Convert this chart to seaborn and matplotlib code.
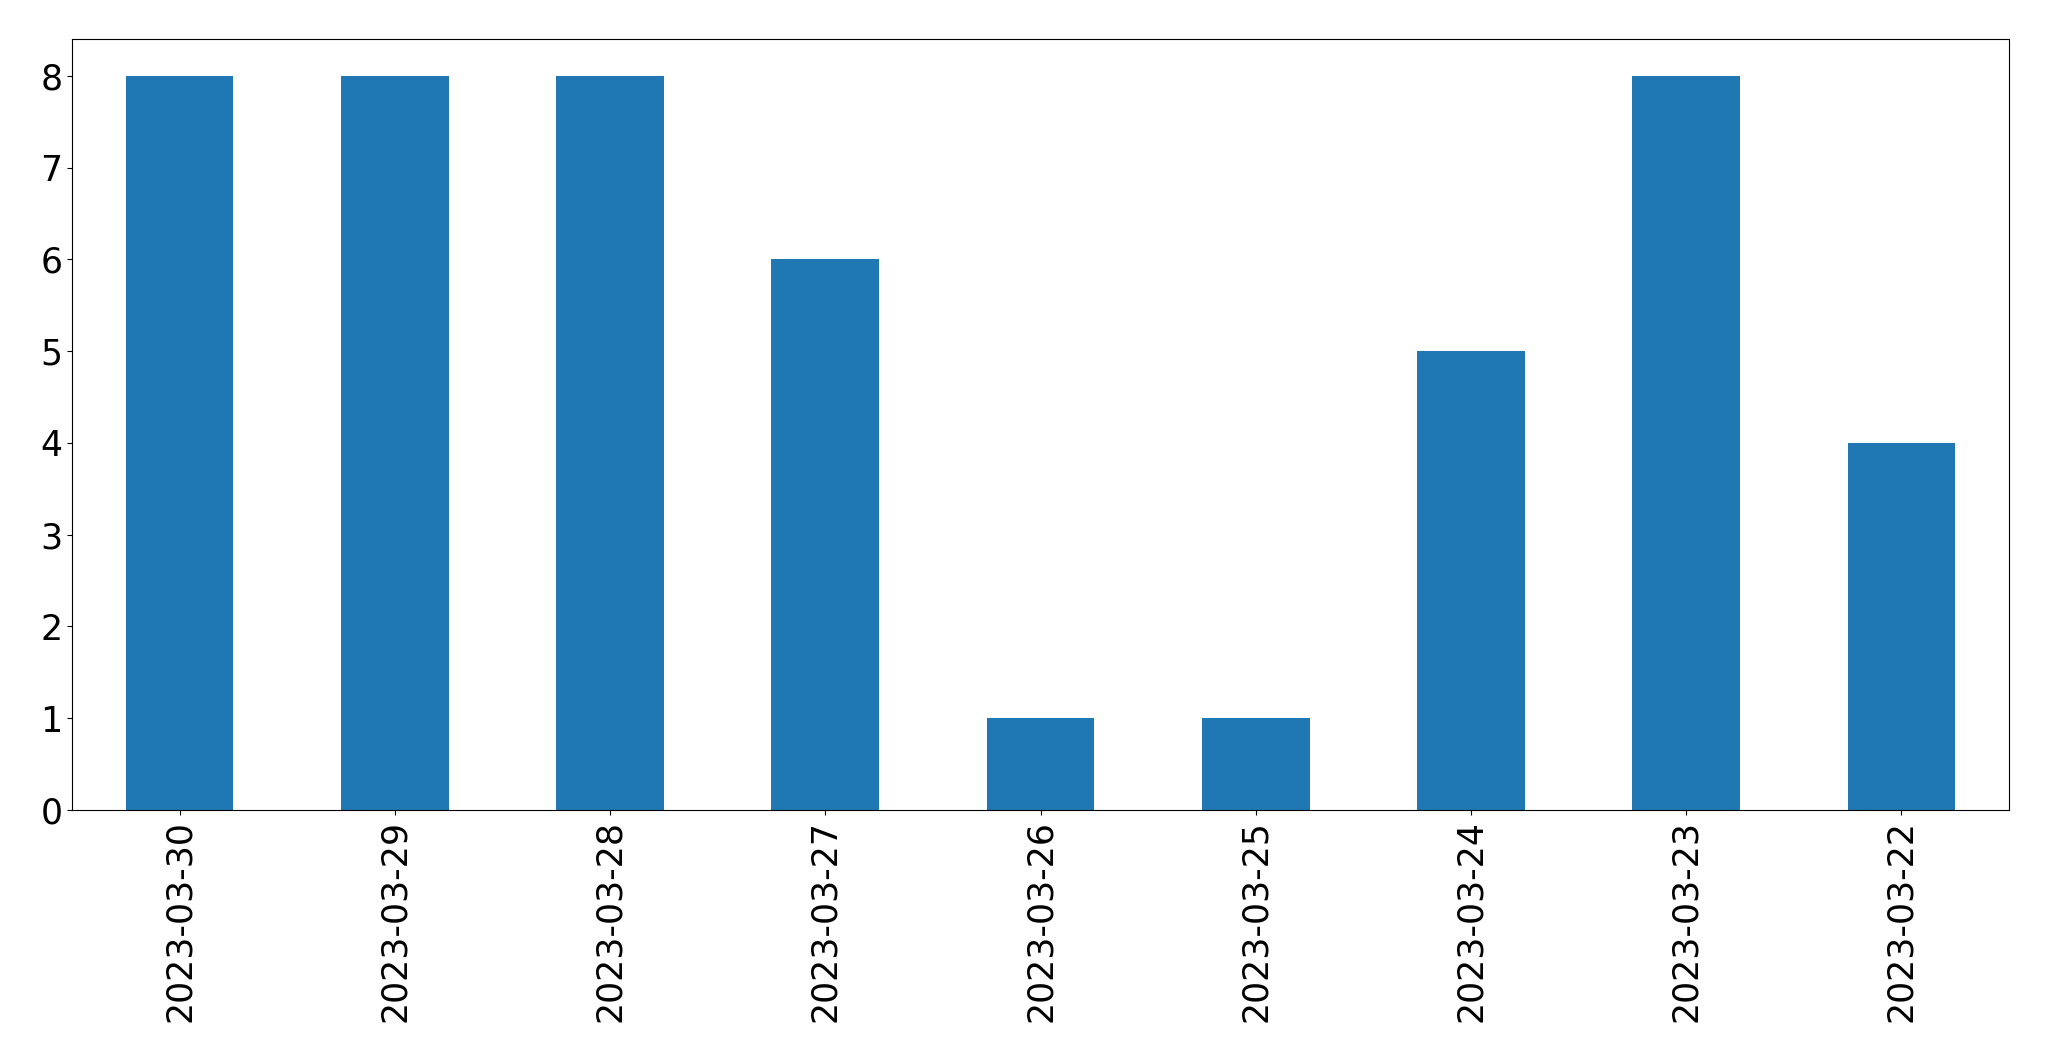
import matplotlib
matplotlib.use("Agg")
import matplotlib.pyplot as plt
import seaborn as sns
import pandas as pd

dates = ["2023-03-30", "2023-03-29", "2023-03-28", "2023-03-27", "2023-03-26",
         "2023-03-25", "2023-03-24", "2023-03-23", "2023-03-22"]
counts = [8, 8, 8, 6, 1, 1, 5, 8, 4]

df = pd.DataFrame({"date": dates, "count": counts})

fig = plt.figure(figsize=(20.49, 10.61), dpi=100)
ax = fig.add_axes([72/2049, 1-810/1061, (2009-72)/2049, (810-39)/1061])
sns.barplot(data=df, x="date", y="count", order=dates, color="#1f77b4",
            saturation=1, width=0.5, ax=ax)
ax.set_xlabel("")
ax.set_ylabel("")
ax.set_xlim(-0.5, len(dates) - 0.5)
ax.set_ylim(0, 8.4)
ax.tick_params(axis="both", labelsize=25)
ax.tick_params(axis="x", labelrotation=90)
for s in ax.spines.values():
    s.set_visible(True)
    s.set_color("black")
fig.savefig("out.png", dpi=100)
